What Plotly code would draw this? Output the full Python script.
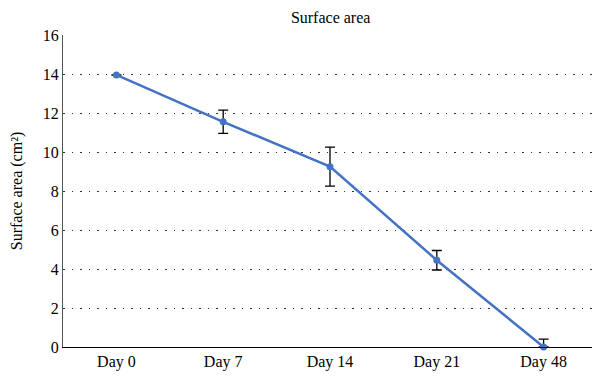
import plotly.graph_objects as go

categories = ["Day 0", "Day 7", "Day 14", "Day 21", "Day 48"]
surface_area = [13.95, 11.55, 9.25, 4.45, 0.0]
error = [0.0, 0.6, 1.0, 0.5, 0.4]

err_minus = [min(e, v) for e, v in zip(error, surface_area)]

FONT = "Liberation Serif"

fig = go.Figure()
fig.add_trace(go.Scatter(
    x=categories, y=surface_area, mode="lines+markers",
    line=dict(color="#4472C4", width=2.5),
    marker=dict(color="#4472C4", size=7),
    error_y=dict(type="data", array=error, arrayminus=err_minus, symmetric=False,
                 color="black", thickness=1.3, width=5, visible=True),
    cliponaxis=False,
    showlegend=False,
))

# page body has an 8px margin, so the figure is sized to fit the window
fig.update_layout(
    width=592, height=369,
    margin=dict(l=55, r=3, t=27, b=30),
    paper_bgcolor="white", plot_bgcolor="white",
    font=dict(family=FONT, size=16, color="black"),
    title=dict(text="Surface area", x=0.545, xanchor="center", y=0.99, yanchor="top",
               automargin=False,
               font=dict(family=FONT, size=16, color="black")),
)
fig.update_xaxes(
    showline=True, linecolor="black", linewidth=1.2, automargin=False,
    showgrid=False, ticks="", tickfont=dict(family=FONT, size=16),
    range=[-0.5, 4.5],
)
fig.update_yaxes(
    range=[0, 16], dtick=2, showline=True, linecolor="#555555", linewidth=1.2,
    automargin=False,
    showgrid=True, gridcolor="#333333", griddash="1.5px,7px", gridwidth=1,
    zeroline=False, ticks="", tickfont=dict(family=FONT, size=16),
    title=dict(text="Surface area (cm²)", font=dict(family=FONT, size=16), standoff=18),
)

fig.write_html("out.html")
